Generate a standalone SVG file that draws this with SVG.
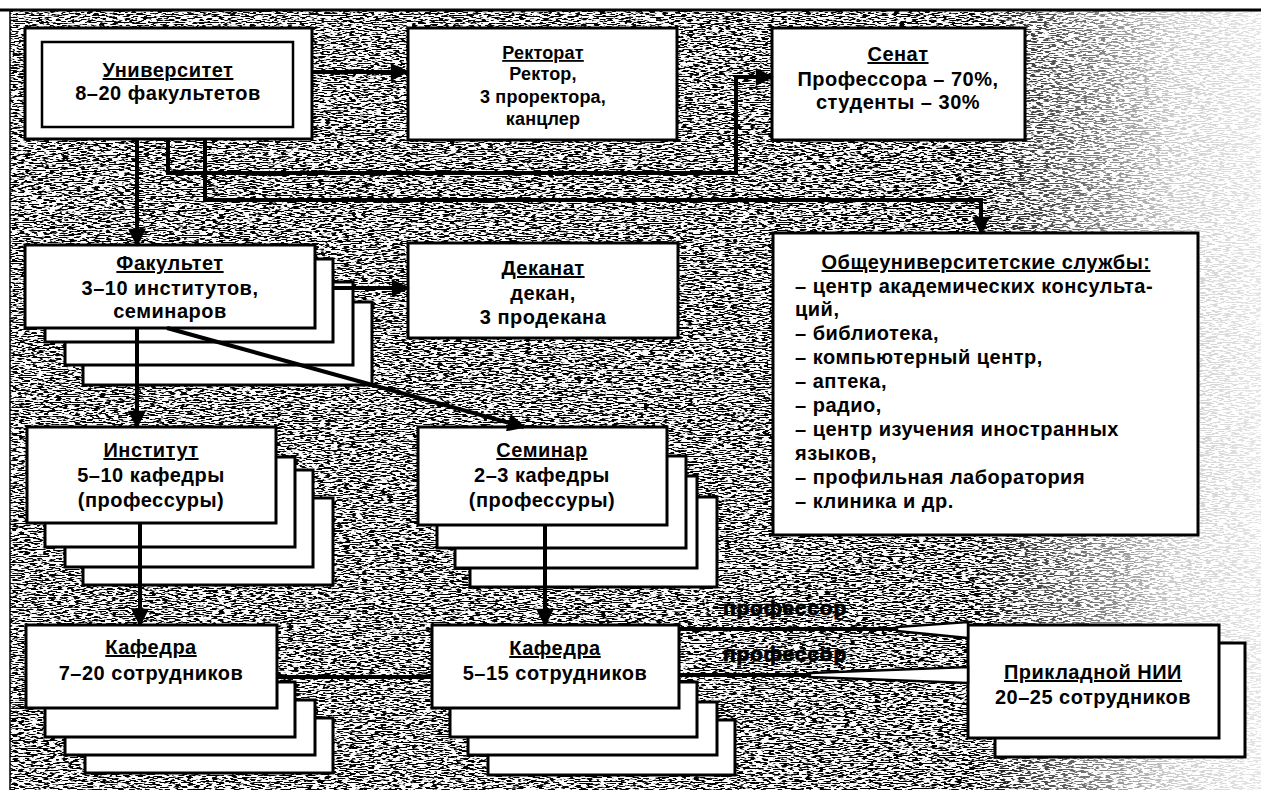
<svg xmlns="http://www.w3.org/2000/svg" width="1261" height="790" viewBox="0 0 1261 790">
<defs>
<filter id="noise" filterUnits="userSpaceOnUse" x="10" y="11" width="1251" height="779" color-interpolation-filters="sRGB">
<feTurbulence type="fractalNoise" baseFrequency="0.16 0.85" numOctaves="2" seed="7" result="n"/>
<feColorMatrix in="n" type="matrix" values="0 0 0 0 0  0 0 0 0 0  0 0 0 0 0  -12 0 0 0 6.2"/>
</filter>
<linearGradient id="fadeG" x1="0" y1="0" x2="1261" y2="0" gradientUnits="userSpaceOnUse">
<stop offset="0" stop-color="#fff"/>
<stop offset="0.77" stop-color="#fff"/>
<stop offset="0.85" stop-color="#999"/>
<stop offset="0.93" stop-color="#333"/>
<stop offset="1" stop-color="#1a1a1a"/>
</linearGradient>
<mask id="fade"><rect x="0" y="0" width="1261" height="790" fill="url(#fadeG)"/></mask>
<marker id="ah" viewBox="0 0 10 10" refX="9" refY="5" markerUnits="userSpaceOnUse" markerWidth="21" markerHeight="18" orient="auto">
<path d="M0,0 L10,5 L0,10 z" fill="#000"/>
</marker>
<style>
.box{fill:#fff;stroke:#000;stroke-width:3}
.t{font-family:"Liberation Sans",Arial,sans-serif;font-weight:bold;font-size:20px;fill:#000;letter-spacing:0.5px}
.c{text-anchor:middle}
.s18{font-size:18px;letter-spacing:0.2px}
.big{font-size:21px;letter-spacing:0.8px;stroke:#000;stroke-width:0.9}
.u{text-decoration:underline}
.ln{fill:none;stroke:#000;stroke-width:4}
.ar{fill:none;stroke:#000;stroke-width:4;marker-end:url(#ah)}
</style>
</defs>
<rect x="0" y="0" width="1261" height="790" fill="#fff"/>
<g mask="url(#fade)">
<rect x="10" y="11" width="1251" height="779" fill="#000" filter="url(#noise)"/>
</g>
<line x1="0" y1="10" x2="1261" y2="10" stroke="#000" stroke-width="3"/>
<line x1="10" y1="10" x2="10" y2="790" stroke="#000" stroke-width="1.5"/>

<g id="university">
<rect class="box" x="25" y="28" width="287" height="111"/>
<rect x="42" y="42" width="251" height="85" fill="#fff" stroke="#000" stroke-width="2.5"/>
<text class="t c u" x="168" y="77">Университет</text>
<text class="t c" x="168" y="100">8–20 факультетов</text>
</g>

<g id="rectorate">
<rect class="box" x="408" y="28" width="269" height="112"/>
<text class="t c s18 u" x="543" y="59">Ректорат</text>
<text class="t c s18" x="543" y="80">Ректор,</text>
<text class="t c s18" x="543" y="103">3 проректора,</text>
<text class="t c s18" x="543" y="125">канцлер</text>
</g>

<g id="senate">
<rect class="box" x="772" y="28" width="253" height="112"/>
<text class="t c u" x="898" y="61">Сенат</text>
<text class="t c" x="898" y="86">Профессора – 70%,</text>
<text class="t c" x="898" y="109">студенты – 30%</text>
</g>

<g id="faculty">
<rect class="box" x="83" y="302" width="289" height="83"/>
<rect class="box" x="65" y="282" width="288" height="83"/>
<rect class="box" x="45" y="259" width="288" height="83"/>
<rect class="box" x="25" y="245" width="290" height="83"/>
<text class="t c u" x="170" y="270">Факультет</text>
<text class="t c" x="170" y="295">3–10 институтов,</text>
<text class="t c" x="170" y="318">семинаров</text>
</g>

<g id="deanery">
<rect class="box" x="408" y="243" width="270" height="95"/>
<text class="t c u" x="543" y="275">Деканат</text>
<text class="t c" x="543" y="300">декан,</text>
<text class="t c" x="543" y="324">3 продекана</text>
</g>

<g id="services">
<rect class="box" x="773" y="233" width="425" height="302"/>
<text class="t c u" x="986" y="269">Общеуниверситетские службы:</text>
<text class="t" x="795" y="293">– центр академических консульта-</text>
<text class="t" x="795" y="316">ций,</text>
<text class="t" x="795" y="340">– библиотека,</text>
<text class="t" x="795" y="364">– компьютерный центр,</text>
<text class="t" x="795" y="388">– аптека,</text>
<text class="t" x="795" y="412">– радио,</text>
<text class="t" x="795" y="436">– центр изучения иностранных</text>
<text class="t" x="795" y="460">языков,</text>
<text class="t" x="795" y="484">– профильная лаборатория</text>
<text class="t" x="795" y="508">– клиника и др.</text>
</g>

<g id="institute">
<rect class="box" x="83" y="498" width="250" height="87"/>
<rect class="box" x="65" y="470" width="248" height="97"/>
<rect class="box" x="45" y="457" width="250" height="90"/>
<rect class="box" x="27" y="427" width="249" height="96"/>
<text class="t c u" x="151" y="457">Институт</text>
<text class="t c" x="151" y="482">5–10 кафедры</text>
<text class="t c" x="151" y="507">(профессуры)</text>
</g>

<g id="seminar">
<rect class="box" x="470" y="497" width="247" height="90"/>
<rect class="box" x="455" y="476" width="242" height="92"/>
<rect class="box" x="437" y="456" width="249" height="92"/>
<rect class="box" x="418" y="427" width="249" height="98"/>
<text class="t c u" x="542" y="457">Семинар</text>
<text class="t c" x="542" y="482">2–3 кафедры</text>
<text class="t c" x="542" y="507">(профессуры)</text>
</g>

<g id="chair-left">
<rect class="box" x="85" y="718" width="248" height="55"/>
<rect class="box" x="65" y="700" width="250" height="55"/>
<rect class="box" x="45" y="682" width="250" height="55"/>
<rect class="box" x="26" y="625" width="251" height="83"/>
<text class="t c u" x="151" y="654">Кафедра</text>
<text class="t c" x="151" y="680">7–20 сотрудников</text>
</g>

<g id="chair-mid">
<rect class="box" x="488" y="720" width="247" height="55"/>
<rect class="box" x="468" y="702" width="249" height="53"/>
<rect class="box" x="450" y="682" width="247" height="55"/>
<rect class="box" x="432" y="625" width="247" height="83"/>
<text class="t c u" x="555" y="655">Кафедра</text>
<text class="t c" x="555" y="680">5–15 сотрудников</text>
</g>

<g id="institute-applied">
<rect class="box" x="995" y="643" width="250" height="114"/>
<rect class="box" x="968" y="625" width="251" height="113"/>
<text class="t c u" x="1093" y="679">Прикладной НИИ</text>
<text class="t c" x="1093" y="704">20–25 сотрудников</text>
</g>

<g id="connectors">
<line class="ar" x1="312" y1="72" x2="407" y2="72"/>
<line class="ar" x1="137" y1="139" x2="137" y2="245"/>
<polyline class="ar" points="168,139 168,173 736,173 736,77 772,77"/>
<polyline class="ar" points="205,139 205,200 981,200 981,233"/>
<line class="ar" x1="333" y1="288" x2="408" y2="288"/>
<line class="ar" x1="137" y1="328" x2="137" y2="427"/>
<line class="ar" x1="167" y1="328" x2="524" y2="427"/>
<line class="ar" x1="140" y1="523" x2="140" y2="625"/>
<line class="ar" x1="545" y1="525" x2="545" y2="625"/>
<line class="ln" x1="277" y1="677" x2="432" y2="677" stroke-width="5"/>
<line class="ln" x1="679" y1="629" x2="898" y2="629"/>
<polygon points="897,627 968,622 968,638 897,631" fill="#fff" stroke="#000" stroke-width="2.5"/>
<line class="ln" x1="679" y1="675" x2="811" y2="675"/>
<polygon points="810,673 968,667 968,683 810,677" fill="#fff" stroke="#000" stroke-width="2.5"/>
<text class="t c big" x="785" y="615">профессор</text>
<text class="t c big" x="785" y="661">профессор</text>
</g>
</svg>
